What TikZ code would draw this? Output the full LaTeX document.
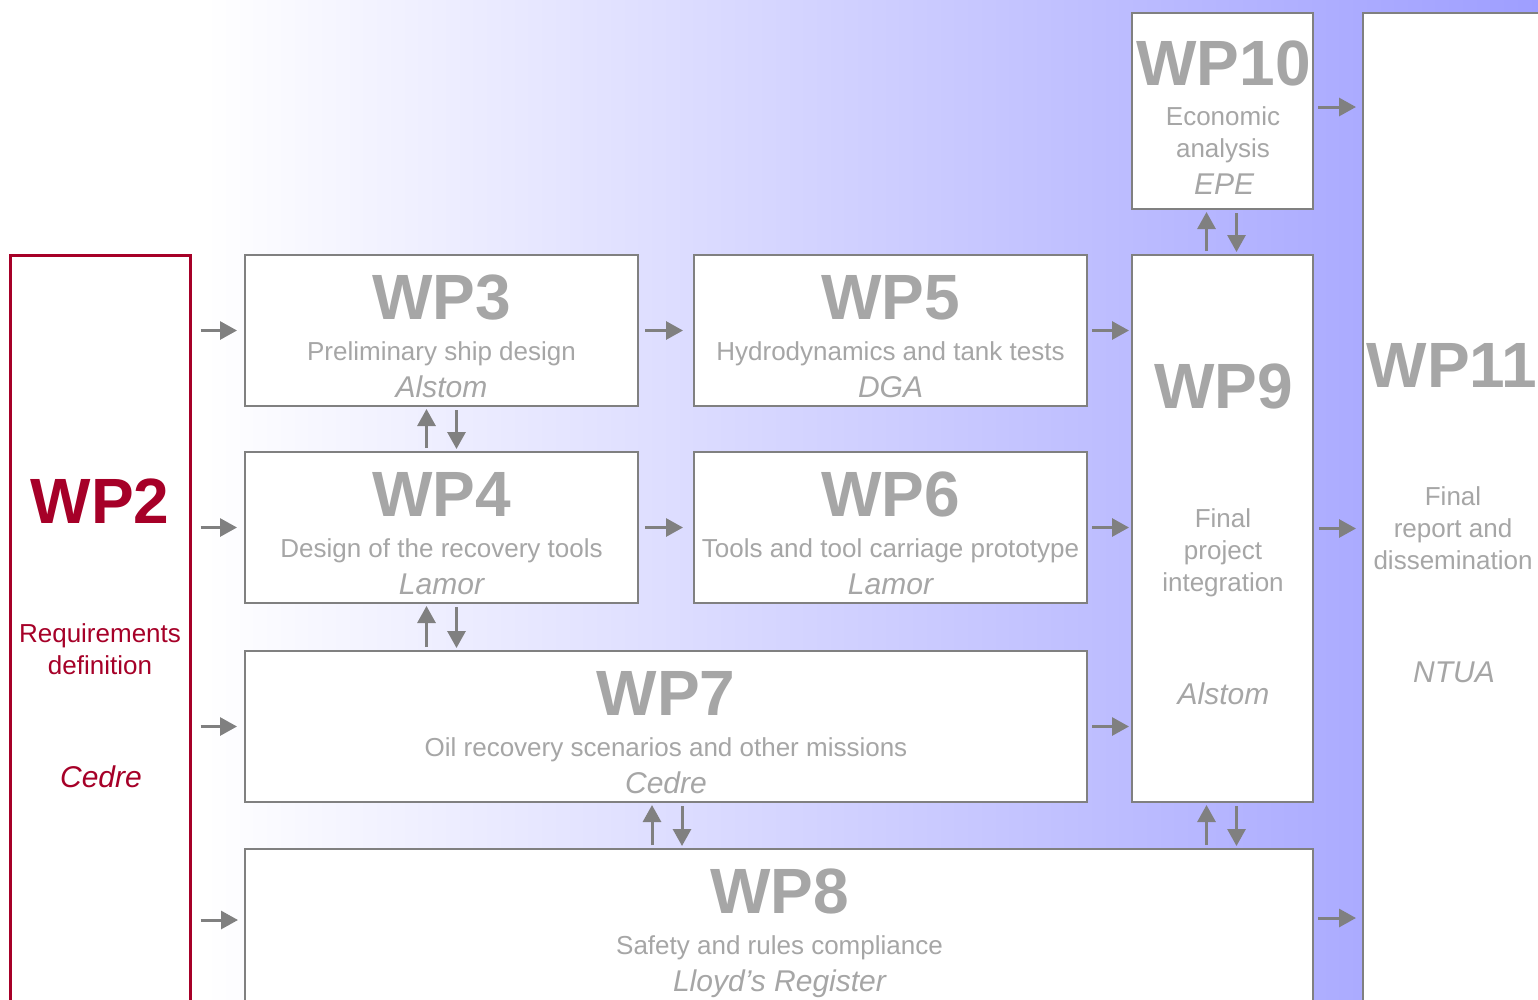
\documentclass[tikz,border=0pt]{standalone}
\usepackage{fontspec}
\setmainfont{Liberation Sans}
\usetikzlibrary{arrows.meta}

\definecolor{wpred}{RGB}{166,0,40}
\definecolor{wpgray}{RGB}{166,166,166}
\definecolor{linegray}{RGB}{128,128,128}
\definecolor{bgblue}{RGB}{158,158,255}

\begin{document}
\begin{tikzpicture}[x=1pt,y=-1pt,
    wpbox/.style={draw=linegray,line width=2pt,fill=white,inner sep=0pt},
    wptitle/.style={text=wpgray,font=\fontsize{64}{64}\selectfont\bfseries,anchor=base,inner sep=0pt},
    wptext/.style={text=wpgray,font=\fontsize{26}{26}\selectfont,anchor=base,inner sep=0pt},
    wpname/.style={text=wpgray,font=\fontsize{30}{30}\selectfont\itshape,anchor=base,inner sep=0pt},
    flow/.style={draw=linegray,line width=3pt,-{Triangle[length=17pt,width=18pt]},shorten <=9pt,shorten >=7pt},
    flowv/.style={flow,shorten <=3pt,shorten >=2pt}]

  %%%% Page and background %%%%
  \useasboundingbox (0,0) rectangle (1538,999);
  \clip (0,0) rectangle (1538,999);
  \fill[white] (0,0) rectangle (205,999);
  \shade[left color=white,right color=bgblue] (205,0) rectangle (1538,999);

  %% Boxes
  \node[wpbox,draw=wpred,line width=3pt,minimum width=180pt,minimum height=755pt] (wp2) at (100,632.5) {};
  \foreach \n/\x/\y in {3/441.5/330.5,5/890.5/330.5,4/441.5/527.5,6/890.5/527.5}{
    \node[wpbox,minimum width=393pt,minimum height=151pt] (wp\n) at (\x,\y) {};
  }
  \node[wpbox,minimum width=842pt,minimum height=151pt] (wp7) at (666,726.5) {};
  \node[wpbox,minimum width=1068pt,minimum height=161pt] (wp8) at (779,929.5) {};
  \node[wpbox,minimum width=181pt,minimum height=547pt] (wp9) at (1222.5,528.5) {};
  \node[wpbox,minimum width=181pt,minimum height=196pt] (wp10) at (1222.5,111) {};
  \node[wpbox,minimum width=197pt,minimum height=997pt] (wp11) at (1461.5,511.5) {};

  %% Texts of the wide boxes (number, subject, leader)
  \foreach \n/\x/\y/\s/\o in {3/441.5/255/Preliminary ship design/Alstom,
      5/890.5/255/Hydrodynamics and tank tests/DGA,
      4/441.5/452/Design of the recovery tools/Lamor,
      6/890.5/452/Tools and tool carriage prototype/Lamor,
      7/666/651/Oil recovery scenarios and other missions/Cedre,
      8/779.5/849/Safety and rules compliance/Lloyd’s Register}{
    \node[wptitle] (wp\n-t) at (\x,\y+64) {WP\n};
    \node[wptext] (wp\n-s) at (\x,\y+105) {\s};
    \node[wpname] (wp\n-n) at (\x,\y+142) {\o};
  }

  %% WP2
  \node[wptitle,text=wpred] (wp2-t) at (100,523) {WP2};
  \foreach \t [count=\i] in {Requirements,definition}{
    \node[wptext,text=wpred] (wp2-l\i) at (100,610+32*\i) {\t};
  }
  \node[wpname,text=wpred] (wp2-n) at (101,787) {Cedre};

  %% WP9, WP10, WP11
  \node[wptitle] (wp9-t) at (1223.5,408) {WP9};
  \foreach \t [count=\i] in {Final,project,integration}{
    \node[wptext] (wp9-l\i) at (1223,495+32*\i) {\t};
  }
  \node[wpname] (wp9-n) at (1223.5,704) {Alstom};

  \node[wptitle] (wp10-t) at (1223.5,85) {WP10};
  \foreach \t [count=\i] in {Economic,analysis}{
    \node[wptext] (wp10-l\i) at (1223,93+32*\i) {\t};
  }
  \node[wpname] (wp10-n) at (1224,194) {EPE};

  \node[wptitle] (wp11-t) at (1452,387) {WP11};
  \foreach \t [count=\i] in {Final,report and,dissemination}{
    \node[wptext] (wp11-l\i) at (1453,473+32*\i) {\t};
  }
  \node[wpname] (wp11-n) at (1454,682) {NTUA};

  %% Horizontal flows
  \coordinate (in8) at (245,920);
  \coordinate (out10) at (1313,107);
  \coordinate (out8) at (1313,918);
  \foreach \b in {wp3,wp4,wp7,in8}{
    \draw[flow] (wp2.east |- \b) -- (\b);
  }
  \draw[flow,shorten <=6pt,shorten >=10pt] (wp3) -- (wp5);
  \draw[flow,shorten <=6pt,shorten >=10pt] (wp4) -- (wp6);
  \foreach \a in {wp5,wp6,wp7}{
    \draw[flow,shorten <=4pt,shorten >=2pt] (\a.east) -- (\a.east -| wp9.west);
  }
  \foreach \a in {out10,wp9,out8}{
    \draw[flow,shorten <=5pt,shorten >=6pt] (\a.east) -- (\a.east -| wp11.west);
  }

  %% Vertical flows (up and down pairs)
  \draw[flowv] ([xshift=-15pt]wp4.north) -- ([xshift=-15pt]wp3.south);
  \draw[flowv] ([xshift=15pt]wp3.south) -- ([xshift=15pt]wp4.north);
  \coordinate (up47) at ([xshift=-15pt]wp4.south);
  \coordinate (dn47) at ([xshift=15pt]wp4.south);
  \draw[flowv] (up47 |- wp7.north) -- (up47);
  \draw[flowv] (dn47) -- (dn47 |- wp7.north);
  \coordinate (up78) at ([xshift=-14pt]wp7.south);
  \coordinate (dn78) at ([xshift=16pt]wp7.south);
  \draw[flowv] (up78 |- wp8.north) -- (up78);
  \draw[flowv] (dn78) -- (dn78 |- wp8.north);
  \draw[flowv] ([xshift=-16pt]wp9.north) -- ([xshift=-16pt]wp10.south);
  \draw[flowv] ([xshift=14pt]wp10.south) -- ([xshift=14pt]wp9.north);
  \coordinate (up98) at ([xshift=-16pt]wp9.south);
  \coordinate (dn98) at ([xshift=14pt]wp9.south);
  \draw[flowv] (up98 |- wp8.north) -- (up98);
  \draw[flowv] (dn98) -- (dn98 |- wp8.north);

\end{tikzpicture}
\end{document}
